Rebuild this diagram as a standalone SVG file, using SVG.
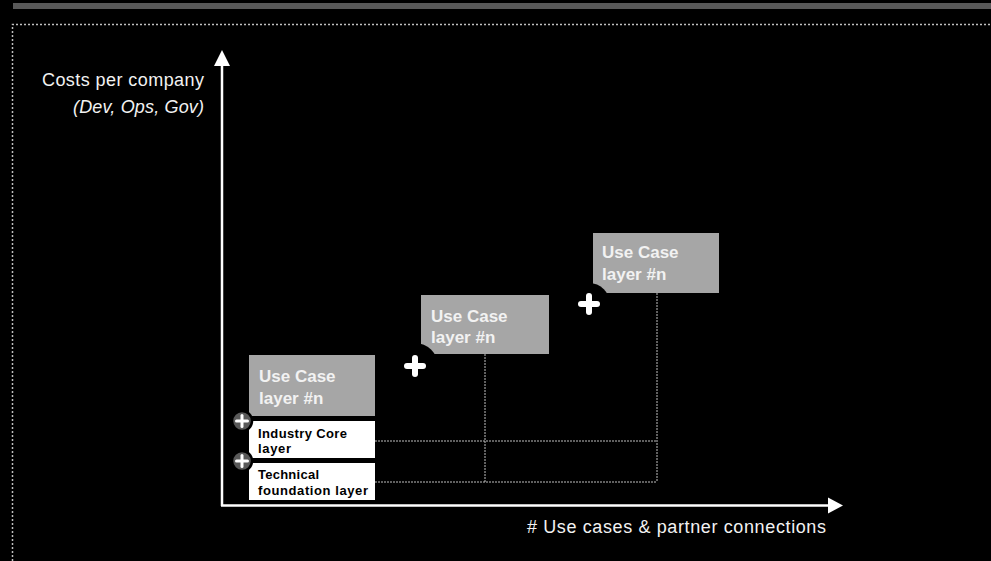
<svg xmlns="http://www.w3.org/2000/svg" width="991" height="561" viewBox="0 0 991 561">
<defs>
<style>
.lbl{font-family:"Liberation Sans",Arial,sans-serif;font-size:18px;fill:#f2f2f2}
.uc{font-family:"Liberation Sans",Arial,sans-serif;font-size:17px;font-weight:bold;fill:#f2f2f2}
.wt{font-family:"Liberation Sans",Arial,sans-serif;font-size:13px;font-weight:bold;fill:#000}
.gbox{fill:#a6a6a6}
.wbox{fill:#ffffff}
.dot{stroke:#bfbfbf;stroke-width:1;stroke-dasharray:2 1;fill:none}
.axis{stroke:#ffffff;stroke-width:2.5;fill:none}
.plus{stroke:#ffffff;stroke-width:6;stroke-linecap:round}
.splus{stroke:#ffffff;stroke-width:3;stroke-linecap:round}
.pc{fill:#595959;stroke:#000;stroke-width:2.5}
</style>
</defs>
<rect x="0" y="0" width="991" height="561" fill="#000"/>
<rect x="13" y="3" width="978" height="6" fill="#595959"/>
<path d="M12.5 561 V24.5 H991" stroke="#bfbfbf" stroke-width="1.5" stroke-dasharray="2 2" fill="none"/>

<g id="connectors">
<line class="dot" x1="375" y1="441" x2="657" y2="441"/>
<line class="dot" x1="375" y1="482" x2="657" y2="482"/>
<line class="dot" x1="485" y1="354" x2="485" y2="482"/>
<line class="dot" x1="657" y1="293" x2="657" y2="482"/>
</g>

<g id="axes">
<line class="axis" x1="222" y1="506" x2="222" y2="64"/>
<polygon points="214,66 222,50 230,66" fill="#fff"/>
<line class="axis" x1="221" y1="505.5" x2="830" y2="505.5"/>
<polygon points="828,497.5 843,505.5 828,513.5" fill="#fff"/>
<text class="lbl" x="42" y="86" textLength="162" lengthAdjust="spacing">Costs per company</text>
<text class="lbl" x="73" y="113" font-style="italic" textLength="131" lengthAdjust="spacing">(Dev, Ops, Gov)</text>
<text class="lbl" x="527" y="533" textLength="299" lengthAdjust="spacing"># Use cases &amp; partner connections</text>
</g>

<g id="technical">
<rect class="wbox" x="249" y="463" width="126" height="37"/>
<text class="wt" x="258" y="479" textLength="61" lengthAdjust="spacing">Technical</text>
<text class="wt" x="258" y="495" textLength="110" lengthAdjust="spacing">foundation layer</text>
</g>

<g id="industry">
<rect class="wbox" x="249" y="421" width="126" height="37"/>
<text class="wt" x="258" y="438" textLength="89" lengthAdjust="spacing">Industry Core</text>
<text class="wt" x="258" y="453" textLength="33" lengthAdjust="spacing">layer</text>
</g>

<g id="usecase1">
<rect class="gbox" x="249" y="355" width="126" height="61"/>
<text class="uc" x="259" y="382">Use Case</text>
<text class="uc" x="259" y="404">layer #n</text>
</g>

<g id="plus1">
<circle class="pc" cx="242" cy="421" r="10"/>
<line class="splus" x1="236.5" y1="421" x2="247.5" y2="421"/>
<line class="splus" x1="242" y1="415.5" x2="242" y2="426.5"/>
</g>
<g id="plus2">
<circle class="pc" cx="242" cy="461" r="10"/>
<line class="splus" x1="236.5" y1="461" x2="247.5" y2="461"/>
<line class="splus" x1="242" y1="455.5" x2="242" y2="466.5"/>
</g>

<g id="usecase2">
<rect class="gbox" x="421" y="295" width="128" height="59"/>
<circle cx="415" cy="366" r="23" fill="#000"/>
<text class="uc" x="431" y="322">Use Case</text>
<text class="uc" x="431" y="343">layer #n</text>
<line class="plus" x1="407" y1="366" x2="423" y2="366"/>
<line class="plus" x1="415" y1="358" x2="415" y2="374"/>
</g>

<g id="usecase3">
<rect class="gbox" x="593" y="233" width="126" height="60"/>
<circle cx="589" cy="304" r="21" fill="#000"/>
<text class="uc" x="602" y="258">Use Case</text>
<text class="uc" x="602" y="280">layer #n</text>
<line class="plus" x1="581" y1="304" x2="597" y2="304"/>
<line class="plus" x1="589" y1="296" x2="589" y2="312"/>
</g>
</svg>
